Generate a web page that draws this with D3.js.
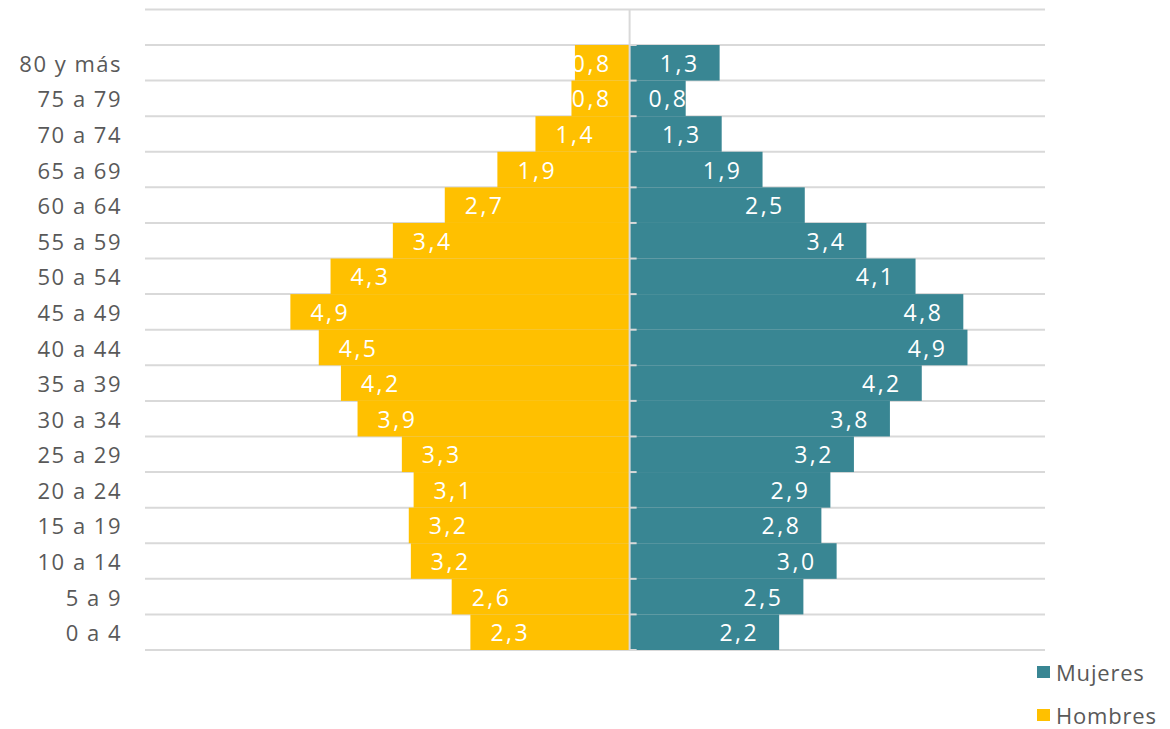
<!DOCTYPE html>
<html lang="es">
<head>
    <meta charset="UTF-8">
    <title>Pirámide de población</title>
    <style>
        body { margin: 0; background: #fff; }
        #chart { display: block; }
        .tick-label { font-family: "Open Sans", sans-serif; font-size: 22px; fill: #595959; letter-spacing: 1.5px; }
        .bar-label { font-family: "Open Sans", sans-serif; font-size: 23px; fill: #fff; letter-spacing: 2.5px; }
        .legend-label { font-family: "Open Sans", sans-serif; font-size: 22px; fill: #595959; letter-spacing: 0.8px; }
    </style>
</head>
<body>
<svg id="chart" width="1170" height="729"></svg>

<script src="https://d3js.org/d3.v7.min.js"></script>
<script>
    // age groups, youngest first
    const groups = ["0 a 4", "5 a 9", "10 a 14", "15 a 19", "20 a 24", "25 a 29", "30 a 34",
        "35 a 39", "40 a 44", "45 a 49", "50 a 54", "55 a 59", "60 a 64", "65 a 69",
        "70 a 74", "75 a 79", "80 y más"];

    // percentages, same order as groups
    const hombres = [2.30, 2.57, 3.16, 3.19, 3.12, 3.29, 3.93, 4.17, 4.49, 4.90,
        4.32, 3.42, 2.67, 1.91, 1.36, 0.84, 0.79];
    const mujeres = [2.16, 2.51, 2.99, 2.77, 2.90, 3.24, 3.76, 4.22, 4.88, 4.82,
        4.13, 3.42, 2.53, 1.92, 1.33, 0.81, 1.30];

    const seriesNames = ["Mujeres", "Hombres"];
    const colors = { Mujeres: "#398693", Hombres: "#FFC000" };

    const svg = d3.select("#chart");
    const fmt = v => v.toFixed(1).replace(".", ",");

    // horizontal scale: men go negative (left), women positive (right)
    const x = d3.scaleLinear().domain([-7, 6]).range([145, 1045]);
    const y = d3.scaleBand().domain(groups).range([650, 45]).paddingInner(0).paddingOuter(0);
    const step = y.step();
    const x0 = x(0);

    // gridlines at band edges (one extra slot on top)
    const gridYs = d3.range(groups.length + 2).map(i => 650 - i * step);
    svg.append("g").selectAll("line").data(gridYs).join("line")
        .attr("x1", x.range()[0]).attr("x2", x.range()[1])
        .attr("y1", d => d).attr("y2", d => d)
        .attr("stroke", "#d9d9d9").attr("stroke-width", 2);

    // bars
    const rows = groups.map((g, i) => ({ g, h: hombres[i], m: mujeres[i] }));

    svg.append("g").selectAll("rect").data(rows).join("rect")
        .attr("x", d => x(-d.h)).attr("width", d => x0 - x(-d.h))
        .attr("y", d => y(d.g)).attr("height", y.bandwidth())
        .attr("fill", colors.Hombres);

    svg.append("g").selectAll("rect").data(rows).join("rect")
        .attr("x", x0).attr("width", d => x(d.m) - x0)
        .attr("y", d => y(d.g)).attr("height", y.bandwidth())
        .attr("fill", colors.Mujeres);

    // centre axis with small ticks to the right
    const axisG = svg.append("g");
    axisG.append("line")
        .attr("x1", x0).attr("x2", x0)
        .attr("y1", gridYs[gridYs.length - 1]).attr("y2", 650)
        .attr("stroke", "#d9d9d9").attr("stroke-width", 2);
    axisG.selectAll("line.tk").data(gridYs.slice(0, groups.length + 1)).join("line")
        .attr("class", "tk")
        .attr("x1", x0).attr("x2", x0 + 7)
        .attr("y1", d => d).attr("y2", d => d)
        .attr("stroke", "#d9d9d9").attr("stroke-width", 2);

    // category labels
    svg.append("g").selectAll("text").data(groups).join("text")
        .attr("class", "tick-label")
        .attr("x", 122)
        .attr("y", d => y(d) + step / 2)
        .attr("text-anchor", "end")
        .attr("dominant-baseline", "central")
        .text(d => d);

    // value labels, inside end, kept off the axis
    const pad = 20;
    const hl = svg.append("g").selectAll("text").data(rows).join("text")
        .attr("class", "bar-label")
        .attr("y", d => y(d.g) + step / 2)
        .attr("dominant-baseline", "central")
        .text(d => fmt(d.h));
    hl.attr("x", function(d) {
        const w = this.getComputedTextLength();
        return Math.min(x(-d.h) + pad, x0 - 18 - w);
    });

    const ml = svg.append("g").selectAll("text").data(rows).join("text")
        .attr("class", "bar-label")
        .attr("y", d => y(d.g) + step / 2)
        .attr("dominant-baseline", "central")
        .text(d => fmt(d.m));
    ml.attr("x", function(d) {
        const w = this.getComputedTextLength();
        return Math.max(x(d.m) - pad - w, x0 + 19);
    });

    // legend
    const legend = svg.append("g").selectAll("g").data(seriesNames).join("g")
        .attr("transform", (d, i) => `translate(1037, ${672 + i * 43})`);
    legend.append("rect")
        .attr("x", 0).attr("y", -6).attr("width", 13).attr("height", 12)
        .attr("fill", d => colors[d]);
    legend.append("text")
        .attr("class", "legend-label")
        .attr("x", 19).attr("y", 0)
        .attr("dominant-baseline", "central")
        .text(d => d);
</script>
</body>
</html>
